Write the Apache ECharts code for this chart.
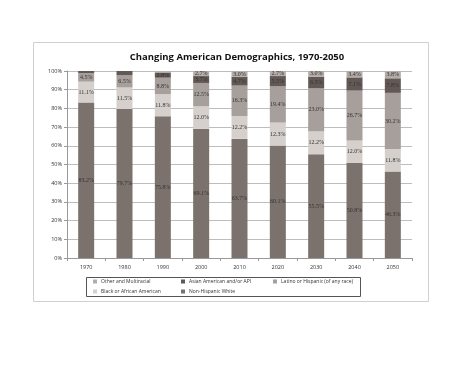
<!DOCTYPE html>
<html><head><meta charset="utf-8">
<script src="https://cdn.jsdelivr.net/npm/echarts@6/dist/echarts.min.js"></script>
<style>html,body{margin:0;padding:0;background:#fff}#c{width:474px;height:366px}</style>
</head><body><div id="c"></div>
<script>
const years = ['1970','1980','1990','2000','2010','2020','2030','2040','2050'];
const white  = [83.2, 79.7, 75.8, 69.1, 63.7, 60.1, 55.5, 50.8, 46.3];
const black  = [11.1, 11.5, 11.8, 12.0, 12.2, 12.3, 12.2, 12.0, 11.8];
const latino = [4.5, 6.5, 8.8, 12.5, 16.3, 19.4, 23.0, 26.7, 30.2];
const asian  = [1.2, 2.3, 2.8, 3.7, 4.7, 5.5, 6.3, 7.1, 7.8];
const other  = [0.0, 0.0, 0.6, 2.7, 3.0, 2.7, 3.0, 3.4, 3.8];
const yTicks = [0,10,20,30,40,50,60,70,80,90,100];

const names = ['Non-Hispanic White','Black or African American','Latino or Hispanic (of any race)','Asian American and/or API','Other and Multiracial'];
const colors = ['#7b726e','#d6d0cd','#a79f9b','#625956','#b3aca8'];
const datas = [white, black, latino, asian, other];

const chart = echarts.init(document.getElementById('c'), null, {renderer:'canvas'});
const labelFont = {fontFamily:'Liberation Serif', fontSize:6, color:'#333'};
const series = names.map((n,i)=>({
  name:n, type:'bar', stack:'all', barWidth:16,
  data:datas[i],
  itemStyle:{color:colors[i]},
  label:{show:true, position:'inside', ...labelFont,
    formatter:p=> (p.value>=2.5 && !(i===3 && p.dataIndex<2)) ? p.value.toFixed(1)+'%' : ''}
}));

function leg(name, left, top){
  return {data:[name], left:left, top:top, orient:'horizontal', itemWidth:4, itemHeight:4, itemGap:2,
    icon:'rect', padding:0, textStyle:{fontFamily:'Open Sans', fontSize:5, color:'#333', padding:[0,0,0,-1]}};
}

chart.setOption({
  animation:false,
  backgroundColor:'#fff',
  title:{text:'Changing American Demographics, 1970-2050', left:'center', top:52,
    textStyle:{fontFamily:'Open Sans', fontWeight:'bold', fontSize:9.5, color:'#111'}, padding:0},
  graphic:[
    {type:'rect', shape:{x:33.5,y:42.5,width:395,height:259}, style:{fill:'none', stroke:'#d0d0d0', lineWidth:1}, z:-1},
    {type:'rect', shape:{x:86.5,y:277.5,width:274,height:19}, style:{fill:'none', stroke:'#555', lineWidth:1}}
  ],
  legend:[
    leg(names[4], 93, 279),
    leg(names[3], 181, 279),
    leg(names[2], 273, 279),
    leg(names[1], 93, 289),
    leg(names[0], 181, 289)
  ],
  grid:{left:67, right:62, top:71, bottom:108},
  xAxis:{type:'category', data:years,
    axisLine:{lineStyle:{color:'#999'}}, axisTick:{show:true, lineStyle:{color:'#999'}, length:3},
    axisLabel:{fontFamily:'Open Sans', fontSize:5.5, color:'#333', margin:6}},
  yAxis:{type:'value', min:0, max:100, interval:10,
    axisLine:{show:true, lineStyle:{color:'#999'}}, axisTick:{show:true, length:3, lineStyle:{color:'#999'}},
    splitLine:{lineStyle:{color:'#bdbdbd', width:1}},
    axisLabel:{fontFamily:'Open Sans', fontSize:5.5, color:'#333', margin:5,
      formatter:v=> yTicks.includes(v) ? v+'%' : ''}},
  series:series
});
</script></body></html>
